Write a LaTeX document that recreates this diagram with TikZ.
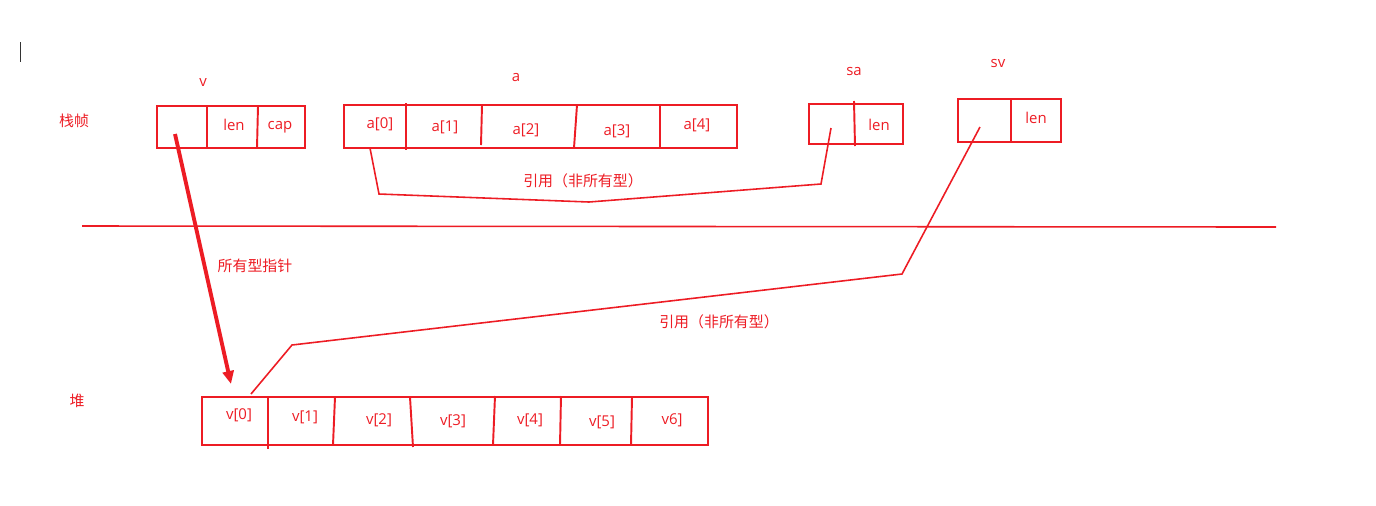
\documentclass[tikz,border=0pt]{standalone}
\usepackage{fontspec}
\setmainfont{Open Sans}
\newfontfamily\cjk{Noto Sans CJK SC}
\usetikzlibrary{arrows.meta}
\definecolor{pen}{HTML}{ED1C24}

\begin{document}
\begin{tikzpicture}[x=0.02cm,y=-0.02cm,
  cell/.style={draw=pen, line width=1.1pt},
  wire/.style={draw=pen, line width=0.9pt},
  txt/.style={text=pen, font=\fontsize{8.5}{10}\selectfont, inner sep=0pt}]
\useasboundingbox (0,0) rectangle (1376,505);
\draw[black!80, line width=0.5pt] (20,42) -- (20,62);
% stack frame
\node[txt] (stack) at (74,121) {\cjk 栈帧};
\node[txt] (vname) at (203,82) {v};
\draw[cell] (157,106) rectangle (305,148);
\draw[cell] (207,106) -- (207,148);
\draw[cell] (258,106) -- (257,148);
\node[txt] (vlen) at (234,125) {len};
\node[txt] (vcap) at (280,127) {cap};
\node[txt] (aname) at (516,78) {a};
\draw[cell] (344,105) rectangle (737,148);
\draw[cell] (406,103) -- (406,150);
\draw[cell] (482,105) -- (481,145);
\draw[cell] (577,105) -- (574,148);
\draw[cell] (660,105) -- (660,148);
\node[txt] (a0) at (380,124) {a[0]};
\node[txt] (a1) at (445,127) {a[1]};
\node[txt] (a2) at (526,130) {a[2]};
\node[txt] (a3) at (617,131) {a[3]};
\node[txt] (a4) at (697,125) {a[4]};
\node[txt] (saname) at (854,71) {sa};
\draw[cell] (809,104) rectangle (903,144);
\draw[cell] (854,101) -- (855,146);
\node[txt] (salen) at (879,125) {len};
\node[txt] (svname) at (998,63) {sv};
\draw[cell] (958,99) rectangle (1061,142);
\draw[cell] (1011,99) -- (1011,142);
\node[txt] (svlen) at (1036,118) {len};
% stack / heap border
\draw[wire] (82,226) -- (1276,227);
% heap
\node[txt] (heap) at (77,401) {\cjk 堆};
\draw[cell] (202,397) rectangle (708,445);
\draw[cell] (268,397) -- (268,449);
\draw[cell] (335,397) -- (333,445);
\draw[cell] (410,397) -- (413,447);
\draw[cell] (495,396) -- (493,445);
\draw[cell] (561,396) -- (560,445);
\draw[cell] (632,397) -- (631,445);
\node[txt] (v0) at (239,415) {v[0]};
\node[txt] (v1) at (305,417) {v[1]};
\node[txt] (v2) at (379,420) {v[2]};
\node[txt] (v3) at (453,421) {v[3]};
\node[txt] (v4) at (530,420) {v[4]};
\node[txt] (v5) at (602,422) {v[5]};
\node[txt] (v6) at (672,420) {v6]};
% pointers
\coordinate (vptr) at (175,134);
\coordinate (vbuf) at (231,384);
\coordinate (aref) at (370,148);
\coordinate (saptr) at (831,128);
\coordinate (svptr) at (980,127);
\coordinate (heapref) at (251,394);
\draw[pen, line width=2.2pt, -{Triangle[length=2.6mm,width=2.2mm]}] (vptr) -- (vbuf);
\node[txt] (ownlbl) at (255,266) {\cjk 所有型指针};
\draw[wire] (aref) -- (379,194) -- (589,202) -- (821,184) -- (saptr);
\node[txt] (salbl) at (583,181) {\cjk 引用（非所有型）};
\draw[wire] (svptr) -- (902,274) -- (292,345) -- (heapref);
\node[txt] (svlbl) at (719,322) {\cjk 引用（非所有型）};
\end{tikzpicture}
\end{document}
